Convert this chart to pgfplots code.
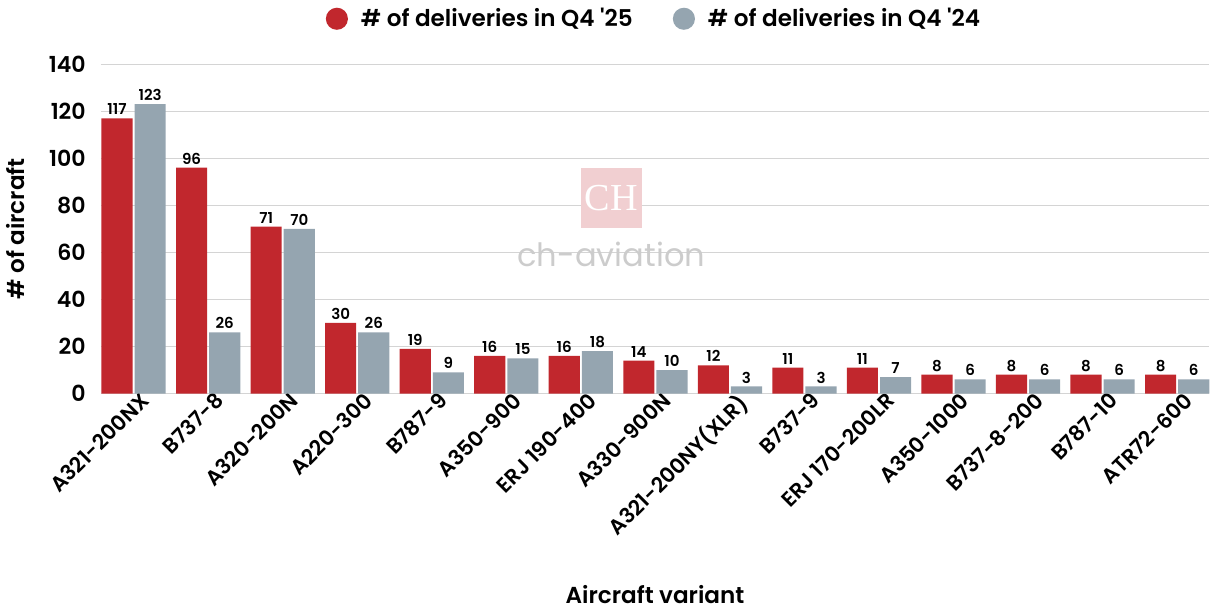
\documentclass[border=0pt]{standalone}
\usepackage{fontspec}
\setmainfont{Poppins}[BoldFont={* SemiBold}, Ligatures=TeXOff]
\usepackage{pgfplots}
\pgfplotsset{compat=1.18}
\definecolor{q25}{HTML}{C1272D}
\definecolor{q24}{HTML}{95A5B0}
\definecolor{gridc}{HTML}{D4D4D4}

\pgfplotstableread{
x  a   b
0  117 123
1  96  26
2  71  70
3  30  26
4  19  9
5  16  15
6  16  18
7  14  10
8  12  3
9  11  3
10 11  7
11 8   6
12 8   6
13 8   6
14 8   6
}\deliv

\begin{document}
\begin{tikzpicture}
\begin{axis}[
    width=552pt, height=164pt,
    scale only axis,
    ybar=1pt,
    bar width=15.5pt,
    ymin=0, ymax=140,
    xmin=-0.44, xmax=14.43,
    ytick={0,20,...,140},
    xtick=data,
    xticklabels={A321-200NX,B737-8,A320-200N,A220-300,B787-9,A350-900,ERJ 190-400,A330-900N,A321-200NY(XLR),B737-9,ERJ 170-200LR,A350-1000,B737-8-200,B787-10,ATR72-600},
    x tick label style={rotate=45, anchor=north east, font=\fontsize{10.5}{12}\selectfont\bfseries, inner sep=1pt, xshift=4pt},
    y tick label style={font=\fontsize{11}{12}\selectfont\bfseries, xshift=-4pt},
    /pgf/number format/assume math mode=true,
    major tick length=0pt,
    ymajorgrids,
    grid style={gridc, line width=0.6pt},
    axis x line*=bottom,
    axis y line*=left,
    y axis line style={draw=none},
    x axis line style={gridc, line width=0.8pt},
    ylabel={\bfseries \# of aircraft},
    ylabel style={font=\fontsize{11.5}{13}\selectfont, yshift=5pt},
    xlabel={\bfseries Aircraft variant},
    xlabel style={font=\fontsize{11.5}{13}\selectfont, at={(rel axis cs:0.5,0)}, anchor=north, yshift=-92pt},
    nodes near coords,
    every node near coord/.append style={font=\fontsize{7.5}{9}\selectfont\bfseries, inner sep=1.5pt},
    legend style={at={(0.5,1.08)}, anchor=south, draw=none, legend columns=2,
        font=\fontsize{11.5}{13}\selectfont\bfseries, /tikz/every even column/.append style={column sep=18pt}},
    legend image code/.code={\fill[#1] (0.2cm,0) circle (5.5pt); \path (0.55cm,0);},
    clip=false,
]
\node[fill=q25!22, minimum size=30pt, inner sep=0pt] at (axis cs:6.41,83) {\color{white}\fontsize{19}{20}\selectfont\rmfamily\fontspec{Liberation Serif}CH};
\node[text=black!20] at (axis cs:6.41,59) {\fontsize{16}{18}\selectfont ch-aviation};
\addplot[fill=q25, draw=none] table[x=x, y=a] {\deliv};
\addlegendentry{\# of deliveries in Q4 '25}
\addplot[fill=q24, draw=none] table[x=x, y=b] {\deliv};
\addlegendentry{\# of deliveries in Q4 '24}
\end{axis}
\end{tikzpicture}
\end{document}
